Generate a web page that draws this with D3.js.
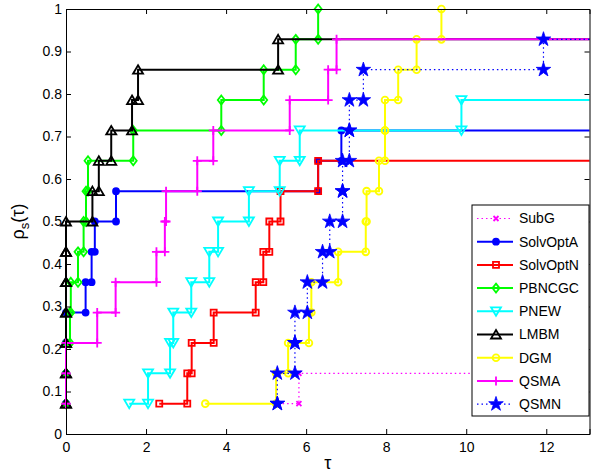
<!DOCTYPE html>
<html>
<head>
<meta charset="utf-8">
<script src="https://cdn.jsdelivr.net/npm/d3@7"></script>
<style>
  body { margin: 0; background: #fff; }
  svg text { font-family: "Liberation Sans", Arial, sans-serif; }
</style>
</head>
<body>
<svg width="591" height="475"></svg>
<script>
// performance profile data: sorted tau values per solver, rho = k / nProblems
var nProblems = 14
var solverNames = ["SubG", "SolvOptA", "SolvOptN", "PBNCGC", "PNEW", "LMBM", "DGM", "QSMA", "QSMN"]
var tauSubG = [5.3, 5.82]
var tauSolvOptA = [0, 0, 0, 0, 0.49, 0.64, 0.72, 1.25, 6.3, 6.88]
var tauSolvOptN = [2.33, 3.03, 3.14, 3.69, 4.74, 4.93, 5.08, 5.36, 6.3]
var tauPBNCGC = [0, 0, 0, 0.1, 0.12, 0.3, 0.44, 0.5, 0.55, 1.68, 3.88, 4.94, 5.74, 6.3]
var tauPNEW = [1.58, 2.05, 2.6, 2.68, 3.13, 3.58, 3.8, 4.57, 5.34, 5.84, 9.88]
var tauLMBM = [0, 0, 0, 0, 0, 0, 0, 0.66, 0.82, 1.13, 1.65, 1.8, 5.3]
var tauDGM = [3.48, 5.25, 5.55, 6.07, 6.13, 6.8, 7.49, 7.51, 7.82, 7.97, 7.97, 8.3, 8.76, 9.38]
var tauQSMA = [0, 0, 0, 0.78, 1.24, 2.26, 2.47, 2.5, 3.28, 3.68, 5.59, 6.55, 6.76]
var tauQSMN = [5.28, 5.28, 5.72, 5.72, 6.03, 6.41, 6.59, 6.91, 6.91, 7.08, 7.08, 7.43, 11.93]
var xDomain = [0, 13.08]
var xTicks = [0, 2, 4, 6, 8, 10, 12]
var yTicks = [0, 0.1, 0.2, 0.3, 0.4, 0.5, 0.6, 0.7, 0.8, 0.9, 1]

var taus = [tauSubG, tauSolvOptA, tauSolvOptN, tauPBNCGC, tauPNEW, tauLMBM, tauDGM, tauQSMA, tauQSMN]

// look of each solver
var styles = [
  {color: "#ff00ff", dash: "1.5,3", width: 1.2, marker: "cross", fill: "none"},
  {color: "#0000ff", dash: null, width: 2, marker: "dot", fill: "#0000ff"},
  {color: "#ff0000", dash: null, width: 2, marker: "square", fill: "none"},
  {color: "#00ff00", dash: null, width: 2, marker: "diamond", fill: "none"},
  {color: "#00ffff", dash: null, width: 2, marker: "triDown", fill: "none"},
  {color: "#000000", dash: null, width: 2, marker: "triUp", fill: "none"},
  {color: "#ffff00", dash: null, width: 2, marker: "circle", fill: "none"},
  {color: "#ff00ff", dash: null, width: 2, marker: "plus", fill: "none"},
  {color: "#0000ff", dash: "1.5,3", width: 1.2, marker: "star", fill: "#0000ff"}
]

var markerPaths = {
  cross: "M-2.5,-2.5L2.5,2.5M-2.5,2.5L2.5,-2.5",
  dot: d3.symbol(d3.symbolCircle, 28)(),
  square: "M-3,-3H3V3H-3Z",
  diamond: "M0,-4.5L3.5,0L0,4.5L-3.5,0Z",
  triDown: "M0,4.5L5,-4L-5,-4Z",
  triUp: "M0,-4.5L5,4L-5,4Z",
  circle: d3.symbol(d3.symbolCircle, 36)(),
  plus: "M-4.5,0H4.5M0,-4.5V4.5",
  star: d3.symbol(d3.symbolStar, 66)()
}

var width = 591
var height = 475
var margin = {top: 9, right: 1.5, bottom: 41, left: 66}
var innerW = width - margin.left - margin.right
var innerH = height - margin.top - margin.bottom

var svg = d3.select("svg")
var g = svg.append("g").attr("transform", `translate(${margin.left},${margin.top})`)

var xScale = d3.scaleLinear().domain(xDomain).range([0, innerW])
var yScale = d3.scaleLinear().domain([0, 1]).range([innerH, 0])

// lines at rho = 1 hide under the top of the box
g.append("clipPath").attr("id", "plotclip")
  .append("rect").attr("x", -1).attr("y", 0.6).attr("width", innerW + 2).attr("height", innerH)

// stairs vertices
function stairs(t) {
  var pts = [[t[0], 1 / nProblems]]
  for (var i = 1; i < t.length; i++) {
    pts.push([t[i], i / nProblems])
    pts.push([t[i], (i + 1) / nProblems])
  }
  return pts
}

var line = d3.line().x(d => xScale(d[0])).y(d => yScale(d[1]))

var plot = g.append("g")

taus.forEach(function(t, k) {
  var st = styles[k]
  var pts = stairs(t)
  var full = pts.concat([[xDomain[1], t.length / nProblems]])
  plot.append("path")
    .attr("clip-path", "url(#plotclip)")
    .attr("d", line(full))
    .attr("fill", "none")
    .attr("stroke", st.color)
    .attr("stroke-width", st.width)
    .attr("stroke-dasharray", st.dash)
  plot.selectAll(null)
    .data(pts)
    .enter().append("path")
    .attr("transform", d => `translate(${xScale(d[0])},${yScale(d[1])})`)
    .attr("d", markerPaths[st.marker])
    .attr("fill", st.fill)
    .attr("stroke", st.color)
    .attr("stroke-width", st.marker == "star" ? 0.8 : 1.8)
})

// axes with inward ticks, box all round
var fmt = d3.format("~g")
g.append("g")
  .attr("transform", `translate(0,${innerH})`)
  .call(d3.axisBottom(xScale).tickValues(xTicks).tickSize(-5).tickPadding(8).tickFormat(fmt))
g.append("g")
  .call(d3.axisTop(xScale).tickValues(xTicks).tickSize(-5).tickFormat(""))
g.append("g")
  .call(d3.axisLeft(yScale).tickValues(yTicks).tickSize(-5).tickPadding(4).tickFormat(fmt))
g.append("g")
  .attr("transform", `translate(${innerW},0)`)
  .call(d3.axisRight(yScale).tickValues(yTicks).tickSize(-5).tickFormat(""))

g.selectAll(".domain").attr("stroke", "#000").attr("stroke-width", 1)
g.selectAll(".tick line").attr("stroke", "#000")
g.selectAll(".tick text").attr("font-size", 14).attr("fill", "#000")
  .style("font-family", '"Liberation Sans", Arial, sans-serif')

// axis labels
svg.append("text")
  .attr("x", margin.left + innerW / 2)
  .attr("y", 469)
  .attr("text-anchor", "middle")
  .attr("font-size", 18)
  .text("τ")

var ylab = svg.append("text")
  .attr("transform", `translate(24,${margin.top + innerH / 2}) rotate(-90)`)
  .attr("text-anchor", "middle")
  .attr("font-size", 18)
ylab.append("tspan").text("ρ")
ylab.append("tspan").attr("font-size", 13).attr("dy", 5).text("s")
ylab.append("tspan").attr("dy", -5).text("(τ)")

// legend
var legend = svg.append("g").attr("transform", "translate(472,205)")
legend.append("rect")
  .attr("width", 117).attr("height", 211)
  .attr("fill", "#fff").attr("stroke", "#000").attr("stroke-width", 1)

var entry = legend.selectAll(".entry")
  .data(solverNames)
  .enter().append("g")
  .attr("class", "entry")
  .attr("transform", (d, i) => `translate(0,${13.5 + i * 23.2})`)

entry.append("line")
  .attr("x1", 5).attr("x2", 41)
  .attr("stroke", (d, i) => styles[i].color)
  .attr("stroke-width", (d, i) => styles[i].width)
  .attr("stroke-dasharray", (d, i) => styles[i].dash)
entry.append("path")
  .attr("transform", "translate(24,0)")
  .attr("d", (d, i) => markerPaths[styles[i].marker])
  .attr("fill", (d, i) => styles[i].fill)
  .attr("stroke", (d, i) => styles[i].color)
  .attr("stroke-width", (d, i) => styles[i].marker == "star" ? 0.8 : 1.8)
entry.append("text")
  .attr("x", 47).attr("dy", "0.35em")
  .attr("font-size", 14)
  .text(d => d)
</script>
</body>
</html>
